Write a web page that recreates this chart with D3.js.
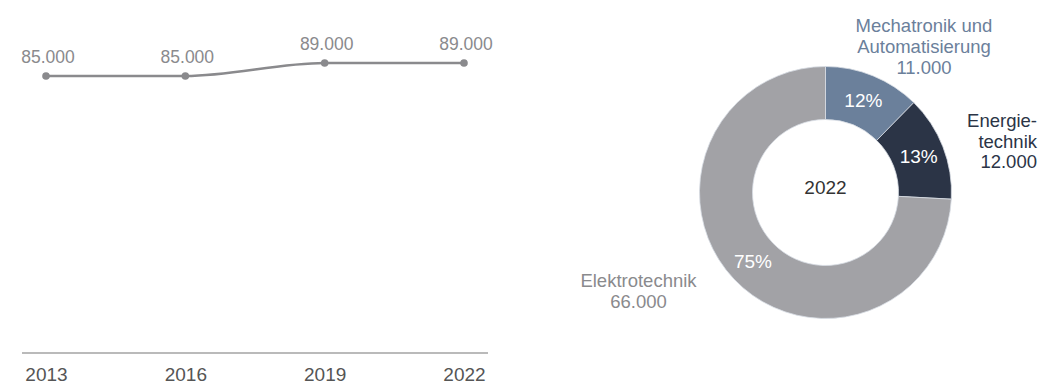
<!DOCTYPE html>
<html><head><meta charset="utf-8">
<script src="https://cdn.jsdelivr.net/npm/d3@7"></script>
<style>body{margin:0;background:#fff}svg{display:block}text{font-family:"Liberation Sans",Arial,sans-serif}</style>
</head><body><svg id="c" width="1039" height="387"></svg>
<script>
const years = ["2013","2016","2019","2022"];
const totals = [85000, 85000, 89000, 89000];
const totalLabels = ["85.000","85.000","89.000","89.000"];

const segNames = ["Mechatronik und Automatisierung","Energietechnik","Elektrotechnik"];
const segValues = [11000, 12000, 66000];
const segPercents = ["12%","13%","75%"];
const segValueLabels = ["11.000","12.000","66.000"];
const centerLabel = "2022";

const svg = d3.select("#c");

// ---- line chart ----
const x = d3.scalePoint().domain(years).range([46, 464]);
const y = d3.scaleLinear().domain([85000, 89000]).range([76, 63]);

svg.append("line").attr("x1", 22).attr("x2", 488).attr("y1", 353).attr("y2", 353)
  .attr("stroke", "#777").attr("stroke-width", 1.2);

const xAxis = svg.append("g").attr("transform", "translate(0,353)")
  .call(d3.axisBottom(x).tickSize(0).tickPadding(15));
xAxis.select(".domain").remove();
xAxis.selectAll("text").attr("font-size", 19).attr("fill", "#555")
  .attr("font-family", "Liberation Sans, Arial, sans-serif");

const pts = years.map((yr, i) => ({yr, v: totals[i], lab: totalLabels[i]}));
svg.append("path").datum(pts)
  .attr("d", d3.line().x(d => x(d.yr)).y(d => y(d.v)).curve(d3.curveMonotoneX))
  .attr("fill", "none").attr("stroke", "#8a8a8d").attr("stroke-width", 2.5);
svg.selectAll(".pt").data(pts).join("circle")
  .attr("cx", d => x(d.yr)).attr("cy", d => y(d.v)).attr("r", 3.8).attr("fill", "#8a8a8d");
svg.selectAll(".vl").data(pts).join("text")
  .attr("x", d => x(d.yr) + 2).attr("y", d => y(d.v) - 13)
  .attr("text-anchor", "middle").attr("font-size", 17.5).attr("fill", "#8a8a8d")
  .text(d => d.lab);

// ---- donut ----
const cx = 825.5, cy = 192.5, rOuter = 126, rInner = 73;
const colors = ["#6b809b", "#2b3446", "#a2a2a6"];
const pie = d3.pie().sort(null).value(d => d)(segValues);
const arc = d3.arc().innerRadius(rInner).outerRadius(rOuter);
const labArc = d3.arc().innerRadius(100).outerRadius(100);
const g = svg.append("g").attr("transform", `translate(${cx},${cy})`);
g.selectAll("path").data(pie).join("path")
  .attr("d", arc).attr("fill", (d, i) => colors[i])
  .attr("stroke", "#d8dde4").attr("stroke-width", 0.8);
g.selectAll(".pl").data(pie).join("text")
  .attr("x", d => labArc.centroid(d)[0]).attr("y", d => labArc.centroid(d)[1] + 7)
  .attr("text-anchor", "middle").attr("font-size", 19).attr("fill", "#fff")
  .text((d, i) => segPercents[i]);
g.append("text").attr("x", 0).attr("y", 1).attr("text-anchor", "middle")
  .attr("font-size", 19).attr("fill", "#333").text(centerLabel);

// external labels
function multi(lines, xx, y0, dy, anchor, color, size) {
  const t = svg.append("text").attr("text-anchor", anchor).attr("font-size", size).attr("fill", color);
  lines.forEach((l, i) => t.append("tspan").attr("x", xx).attr("y", y0 + i * dy).text(l));
}
multi(["Mechatronik und", "Automatisierung", segValueLabels[0]], 924, 32, 21, "middle", "#6b809b", 18.5);
multi(["Energie-", "technik", segValueLabels[1]], 1037, 127, 20.5, "end", "#2b3446", 18.5);
multi(["Elektrotechnik", segValueLabels[2]], 638.5, 287, 21, "middle", "#8a8a8d", 18.5);
</script></body></html>
